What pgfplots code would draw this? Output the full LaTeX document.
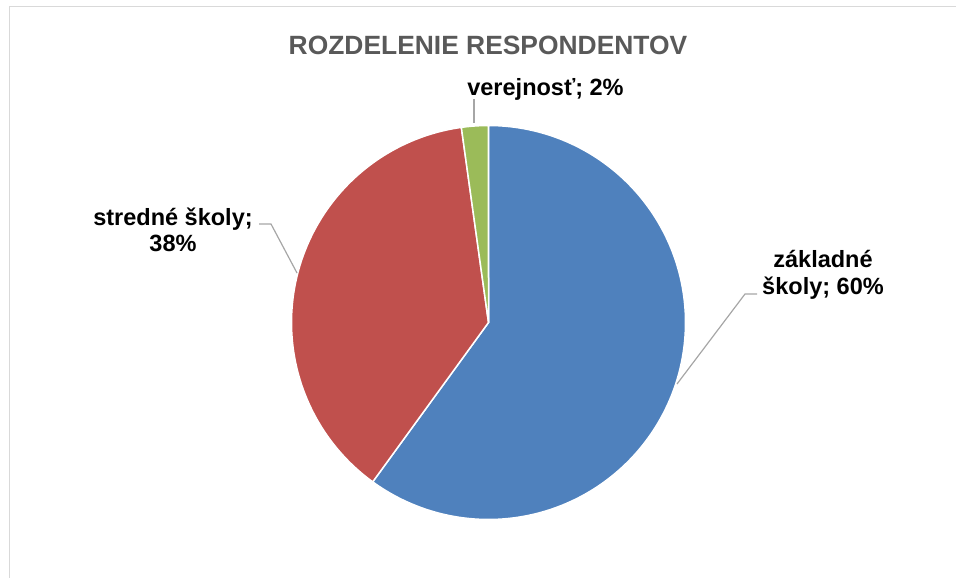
\documentclass[border=0pt]{standalone}
\usepackage{fontspec}
\setmainfont{Liberation Sans}
\usepackage{pgfplots}
\usepackage{pgfplotstable}
\pgfplotsset{compat=1.18}
\definecolor{cblue}{HTML}{4F81BD}
\definecolor{cred}{HTML}{C0504D}
\definecolor{cgreen}{HTML}{9BBB59}
\definecolor{ctitle}{HTML}{595959}
\definecolor{cleader}{HTML}{A6A6A6}
\definecolor{cframe}{HTML}{D9D9D9}

% share of respondents (percent)
\pgfplotstableread{
name value
zakladne 60.0
stredne 37.8
verejnost 2.2
}\piedata

\pgfplotstablegetelem{0}{value}\of{\piedata}\let\va\pgfplotsretval
\pgfplotstablegetelem{1}{value}\of{\piedata}\let\vb\pgfplotsretval
\pgfplotstablegetelem{2}{value}\of{\piedata}\let\vc\pgfplotsretval
\pgfmathsetmacro{\tot}{\va+\vb+\vc}
\pgfmathsetmacro{\aA}{90}
\pgfmathsetmacro{\aB}{90-\va/\tot*360}
\pgfmathsetmacro{\aC}{\aB-\vb/\tot*360}
\pgfmathsetmacro{\aD}{\aC-\vc/\tot*360}

\begin{document}
\begin{tikzpicture}
\begin{axis}[
  name=ax,
  scale only axis, width=956bp, height=578bp,
  xmin=0, xmax=956, ymin=0, ymax=578,
  hide axis, clip=false,
]
% frame
\addplot[cframe, line width=1bp] coordinates {(9,0) (9,571) (956,571)};
% slices
\def\cx{488.5}\def\cy{255.5}\def\rr{197}
\addplot[fill=cblue, draw=white, line width=1.5bp, domain=\aB:\aA, samples=120, smooth]
  ({\cx+\rr*cos(x)},{\cy+\rr*sin(x)}) -- (\cx,\cy) -- cycle;
\addplot[fill=cred, draw=white, line width=1.5bp, domain=\aC:\aB, samples=100, smooth]
  ({\cx+\rr*cos(x)},{\cy+\rr*sin(x)}) -- (\cx,\cy) -- cycle;
\addplot[fill=cgreen, draw=white, line width=1.5bp, domain=\aD:\aC, samples=10, smooth]
  ({\cx+\rr*cos(x)},{\cy+\rr*sin(x)}) -- (\cx,\cy) -- cycle;
% leader lines
\addplot[cleader, line width=1.2bp] coordinates {(474,455) (474,479)};
\addplot[cleader, line width=1.2bp] coordinates {(259,354) (271,354) (297,305)};
\addplot[cleader, line width=1.2bp] coordinates {(757,284) (745,284) (677,194)};
% texts
\node[font=\bfseries\fontsize{26.5}{30}\selectfont, text=ctitle] at (488,533) {ROZDELENIE RESPONDENTOV};
\node[font=\bfseries\fontsize{23.6}{26.5}\selectfont, inner sep=0pt] at (545.5,489) {verejnosť; 2\%};
\node[font=\bfseries\fontsize{23.6}{26.5}\selectfont, align=center, inner sep=0pt] at (173,348) {stredné školy;\\38\%};
\node[font=\bfseries\fontsize{23.6}{26.5}\selectfont, align=center, inner sep=0pt] at (823,303) {základné\\školy; 60\%};
\end{axis}
\pgfresetboundingbox
\path[use as bounding box] (ax.south west) rectangle (ax.north east);
\end{tikzpicture}
\end{document}
